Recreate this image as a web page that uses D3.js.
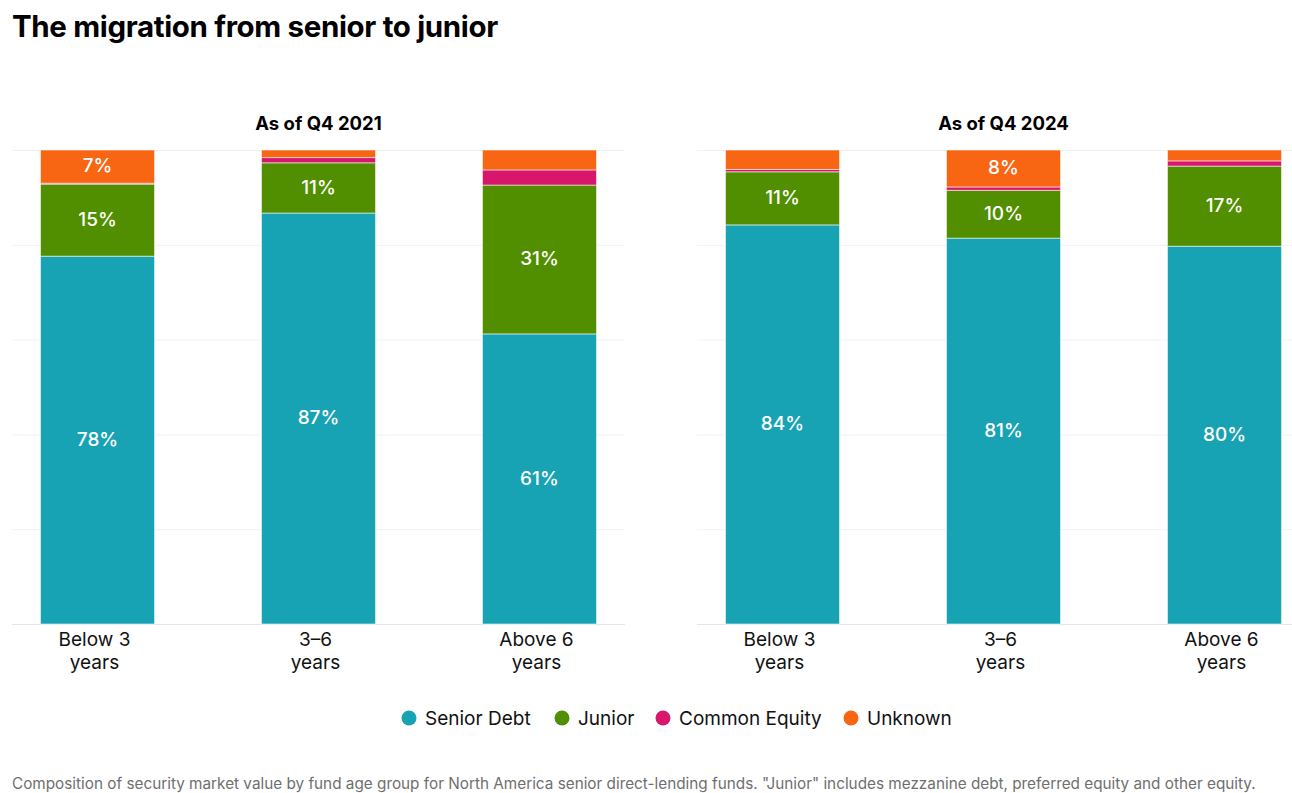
<!DOCTYPE html>
<html>
<head>
<meta charset="utf-8">
<script src="https://cdn.jsdelivr.net/npm/d3@7"></script>
<style>
  body { margin: 0; background: #fff; }
  text { font-family: Inter, "Noto Sans", sans-serif; }
</style>
</head>
<body>
<script>
// categories and series
var ageGroups = ["Below 3 years", "3–6 years", "Above 6 years"];
var ageLines = [["Below 3", "years"], ["3–6", "years"], ["Above 6", "years"]];
var seriesNames = ["Senior Debt", "Junior", "Common Equity", "Unknown"];
var seriesColors = ["#18a3b5", "#518f00", "#d8166b", "#f86513"];
var panelTitles = ["As of Q4 2021", "As of Q4 2024"];

// percentages per age group, by panel
var senior2021 = [77.6, 86.7, 61.2];
var junior2021 = [15.2, 10.6, 31.4];
var common2021 = [0.2, 1.1, 3.2];
var unknown2021 = [7.0, 1.6, 4.2];

var senior2024 = [84.2, 81.4, 79.7];
var junior2024 = [11.2, 10.1, 16.9];
var common2024 = [0.5, 0.7, 1.1];
var unknown2024 = [4.1, 7.8, 2.3];

var yTicks = [0, 20, 40, 60, 80, 100];

var w = 1292, h = 793;
var svg = d3.select("body").append("svg")
    .attr("width", w)
    .attr("height", h);

// Title
svg.append("text")
    .attr("x", 12)
    .attr("y", 37)
    .attr("font-size", 29.5)
    .attr("font-weight", 700)
    .attr("letter-spacing", -0.35)
    .attr("fill", "#000")
    .text("The migration from senior to junior");

var panels = [
  { title: panelTitles[0], x0: 12, x1: 625, series: [senior2021, junior2021, common2021, unknown2021] },
  { title: panelTitles[1], x0: 697, x1: 1310, series: [senior2024, junior2024, common2024, unknown2024] }
];

var y = d3.scaleLinear().domain([0, 100]).range([624, 150]);

panels.forEach(function(p) {
  var g = svg.append("g");

  var x = d3.scaleBand()
      .domain(ageGroups)
      .range([p.x0, p.x1])
      .paddingInner(0.484)
      .paddingOuter(0.129);

  // gridlines
  g.selectAll(".grid")
    .data(yTicks)
    .enter().append("line")
      .attr("x1", p.x0)
      .attr("x2", p.x1)
      .attr("y1", function(d) { return y(d) + 0.5; })
      .attr("y2", function(d) { return y(d) + 0.5; })
      .attr("stroke", function(d) { return d === 0 ? "#e6e6e6" : "#f2f2f2"; })
      .attr("stroke-width", 1);

  // panel title
  g.append("text")
      .attr("x", (x(ageGroups[0]) + x(ageGroups[2]) + x.bandwidth()) / 2)
      .attr("y", 130)
      .attr("text-anchor", "middle")
      .attr("font-size", 18.5)
      .attr("font-weight", 700)
      .attr("fill", "#000")
      .text(p.title);

  // stack the data
  var rows = ageGroups.map(function(a, i) {
    var r = { group: a };
    seriesNames.forEach(function(s, k) { r[s] = p.series[k][i]; });
    return r;
  });
  var stacked = d3.stack().keys(seriesNames)(rows);

  var layers = g.selectAll(".layer")
    .data(stacked)
    .enter().append("g")
      .attr("fill", function(d, k) { return seriesColors[k]; });

  layers.selectAll("rect")
    .data(function(d) { return d; })
    .enter().append("rect")
      .attr("x", function(d) { return x(d.data.group); })
      .attr("width", x.bandwidth())
      .attr("y", function(d) { return y(d[1]); })
      .attr("height", function(d) { return y(d[0]) - y(d[1]); })
      .attr("stroke", "rgba(255,255,255,0.55)")
      .attr("stroke-width", 1);

  // value labels for segments big enough
  stacked.forEach(function(layer) {
    layer.forEach(function(d) {
      var v = d[1] - d[0];
      if (v < 5) return;
      g.append("text")
        .attr("x", x(d.data.group) + x.bandwidth() / 2)
        .attr("y", (y(d[0]) + y(d[1])) / 2 - 1)
        .attr("dy", "0.35em")
        .attr("text-anchor", "middle")
        .attr("font-size", 19)
        .attr("font-weight", 500)
        .attr("fill", "#fff")
        .text(Math.round(v) + "%");
    });
  });

  // x labels
  var xl = g.selectAll(".xl")
    .data(ageGroups)
    .enter().append("text")
      .attr("x", function(d) { return x(d) + x.bandwidth() / 2 - 3; })
      .attr("y", 646)
      .attr("text-anchor", "middle")
      .attr("font-size", 19)
      .attr("fill", "#111");
  xl.selectAll("tspan")
    .data(function(d, i) { return ageLines[i]; })
    .enter().append("tspan")
      .attr("x", function() { return d3.select(this.parentNode).attr("x"); })
      .attr("dy", function(d, i) { return i === 0 ? 0 : 22.5; })
      .text(function(d) { return d; });
});

// Legend
var legendX = [409, 562, 663, 851];
var lg = svg.append("g");
seriesNames.forEach(function(s, k) {
  lg.append("circle")
    .attr("cx", legendX[k])
    .attr("cy", 718)
    .attr("r", 7.5)
    .attr("fill", seriesColors[k]);
  lg.append("text")
    .attr("x", legendX[k] + 16)
    .attr("y", 718)
    .attr("dy", "0.35em")
    .attr("font-size", 19)
    .attr("fill", "#111")
    .text(s);
});

// Footnote
svg.append("text")
    .attr("x", 12)
    .attr("y", 789)
    .attr("font-size", 15.3)
    .attr("fill", "#6f6f6f")
    .text("Composition of security market value by fund age group for North America senior direct-lending funds. \"Junior\" includes mezzanine debt, preferred equity and other equity.");
</script>
</body>
</html>
